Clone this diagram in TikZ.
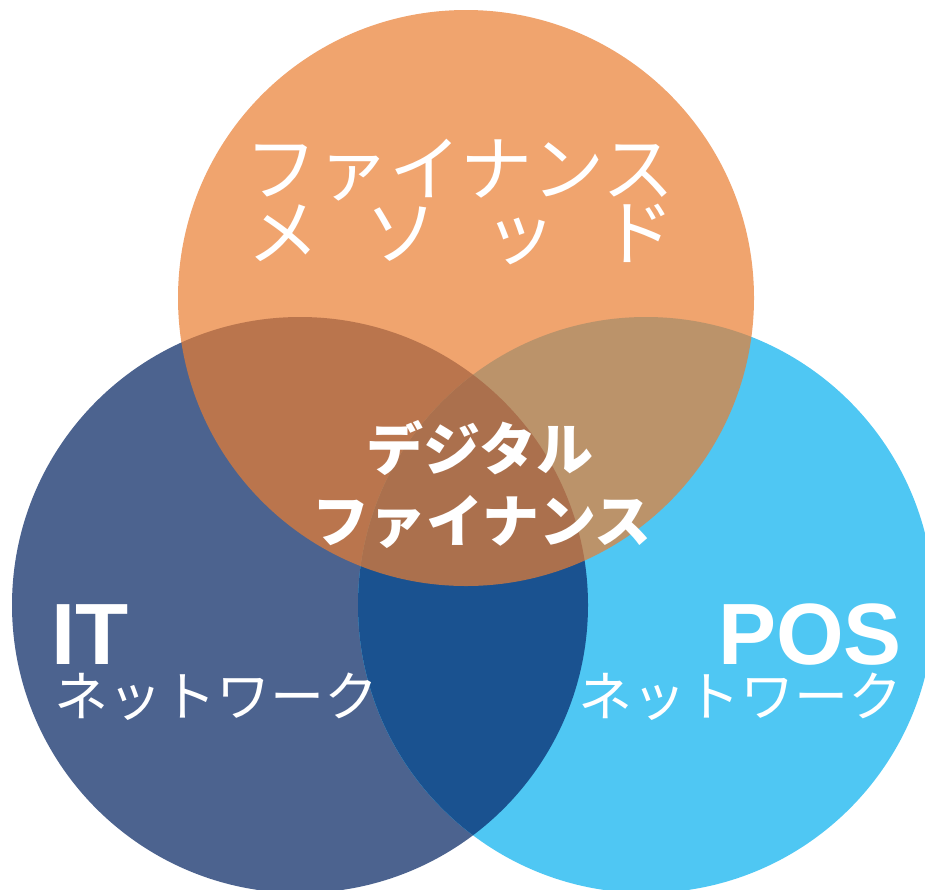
\documentclass[tikz,border=0pt]{standalone}
\usepackage{fontspec}
\newfontfamily\jp{Noto Sans CJK JP}
\newfontfamily\lat{Liberation Sans}
\definecolor{darkblue}{HTML}{4C638F}
\definecolor{lightblue}{HTML}{4FC7F3}
\definecolor{overlapblue}{HTML}{1A5290}
\definecolor{orangebase}{HTML}{E97D31}
\tikzset{
  lbl/.style={inner sep=0pt, text=white},
  jpreg/.style={lbl, font=\jp\fontsize{#1pt}{#1pt}\selectfont},
  jpbold/.style={lbl, font=\jp\bfseries\fontsize{#1pt}{#1pt}\selectfont},
  latbold/.style={lbl, text depth=0pt, font=\lat\bfseries\fontsize{#1pt}{#1pt}\selectfont}
}
\begin{document}
\begin{tikzpicture}[x=1pt,y=-1pt]
\useasboundingbox (0,0) rectangle (925,889);
\clip (0,0) rectangle (925,889);
% blue circles
\fill[darkblue] (300,605) circle[radius=288pt];
\fill[lightblue] (646,605) circle[radius=288pt];
\begin{scope}
  \clip (300,605) circle[radius=288pt];
  \fill[overlapblue] (646,605) circle[radius=288pt];
\end{scope}
% orange circle
\fill[orangebase, opacity=0.7] (466,298) circle[radius=288pt];
% texts
\node[jpreg=72, anchor=base] (fin1) at (460,195) {ファイナンス};
\node[jpreg=72, anchor=base] (fin2) at (461,259) {\hbox to 428pt{メ\hfil ソ\hfil ッ\hfil ド}};
\node[jpbold=57, anchor=base] (dig1) at (480,470) {デジタル};
\node[jpbold=57, anchor=base] (dig2) at (482,542) {ファイナンス};
\node[latbold=87, anchor=base west] (it) at (51,664) {IT};
\node[jpreg=54, text height=0.82em, anchor=base west] (itnet) at (54,716) {ネットワーク};
\node[latbold=87, anchor=base east] (pos) at (902,664) {POS};
\node[jpreg=54, text height=0.82em, anchor=base east] (posnet) at (903,716) {ネットワーク};
\end{tikzpicture}
\end{document}
